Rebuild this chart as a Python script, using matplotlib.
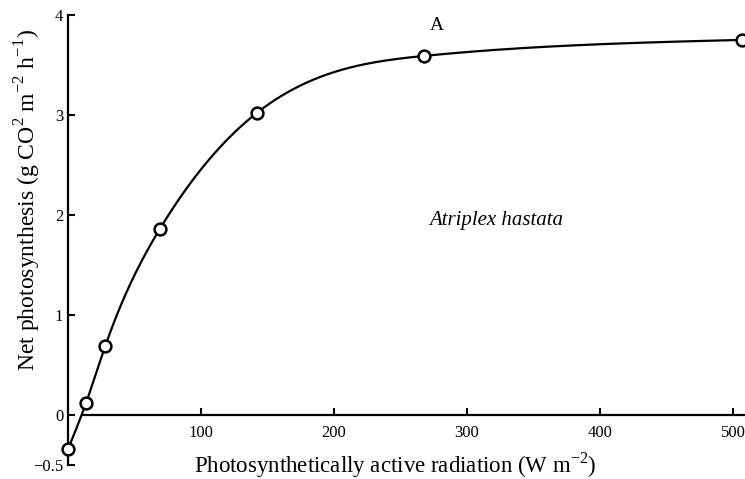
import numpy as np
import matplotlib.pyplot as plt

par = [0, 13.5, 28, 69, 142, 268, 507]                # W m-2
net_ps = [-0.34, 0.12, 0.69, 1.86, 3.02, 3.59, 3.75]  # g CO2 m-2 h-1

x_ticks = [100, 200, 300, 400, 500]
y_ticks = [-0.5, 0, 1, 2, 3, 4]
y_tick_labels = ["\u22120.5", "0", "1", "2", "3", "4"]


def natural_spline(x, y, xs):
    # plain natural cubic spline through the measured points (just for drawing the line)
    x = np.asarray(x, float)
    y = np.asarray(y, float)
    n = len(x)
    h = np.diff(x)
    A = np.zeros((n, n))
    b = np.zeros(n)
    A[0, 0] = A[-1, -1] = 1
    for i in range(1, n - 1):
        A[i, i - 1] = h[i - 1]
        A[i, i] = 2 * (h[i - 1] + h[i])
        A[i, i + 1] = h[i]
        b[i] = 6 * ((y[i + 1] - y[i]) / h[i] - (y[i] - y[i - 1]) / h[i - 1])
    M = np.linalg.solve(A, b)
    idx = np.clip(np.searchsorted(x, xs) - 1, 0, n - 2)
    x0, x1 = x[idx], x[idx + 1]
    hh = h[idx]
    return (M[idx] * (x1 - xs) ** 3 / (6 * hh) + M[idx + 1] * (xs - x0) ** 3 / (6 * hh)
            + (y[idx] / hh - M[idx] * hh / 6) * (x1 - xs)
            + (y[idx + 1] / hh - M[idx + 1] * hh / 6) * (xs - x0))


plt.rcParams["font.family"] = ["Liberation Serif", "DejaVu Serif"]
plt.rcParams["mathtext.fontset"] = "custom"
plt.rcParams["mathtext.rm"] = "Liberation Serif"

fig = plt.figure(figsize=(7.45, 4.79), dpi=100)
ax = fig.add_axes([0.0913, 0.029, 0.9087, 0.94])

xs = np.linspace(par[0], par[-1], 800)
ax.plot(xs, natural_spline(par, net_ps, xs), color="black", lw=1.6, zorder=2, clip_on=False)
ax.plot(par, net_ps, "o", ms=8.5, mfc="white", mec="black", mew=1.8,
        zorder=3, clip_on=False)

ax.set_xlim(0, 509)
ax.set_ylim(-0.5, 4)

# x axis sits at y = 0, starting just right of the y axis
ax.spines["bottom"].set_position(("data", 0))
ax.spines["bottom"].set_bounds(11, 509)
ax.spines["top"].set_visible(False)
ax.spines["right"].set_visible(False)
for s in ("bottom", "left"):
    ax.spines[s].set_linewidth(1.6)

ax.set_xticks(x_ticks)
ax.set_yticks(y_ticks)
ax.set_yticklabels(y_tick_labels)
ax.tick_params(direction="in", length=5, width=1.5, labelsize=12)
ax.tick_params(axis="x", pad=7)

ax.text(277, 3.89, "A", fontsize=14, ha="center", va="center")
ax.text(322, 1.94, "Atriplex hastata", fontsize=15, style="italic",
        ha="center", va="center")

fig.text(0.530, 0.029, r"Photosynthetically active radiation (W m$^{-2}$)",
         fontsize=16.5, ha="center", va="center")
fig.text(0.038, 0.582, r"Net photosynthesis (g CO$^{2}$ m$^{-2}$ h$^{-1}$)",
         fontsize=17, ha="center", va="center", rotation=90)

plt.savefig("out.png", dpi=100)
